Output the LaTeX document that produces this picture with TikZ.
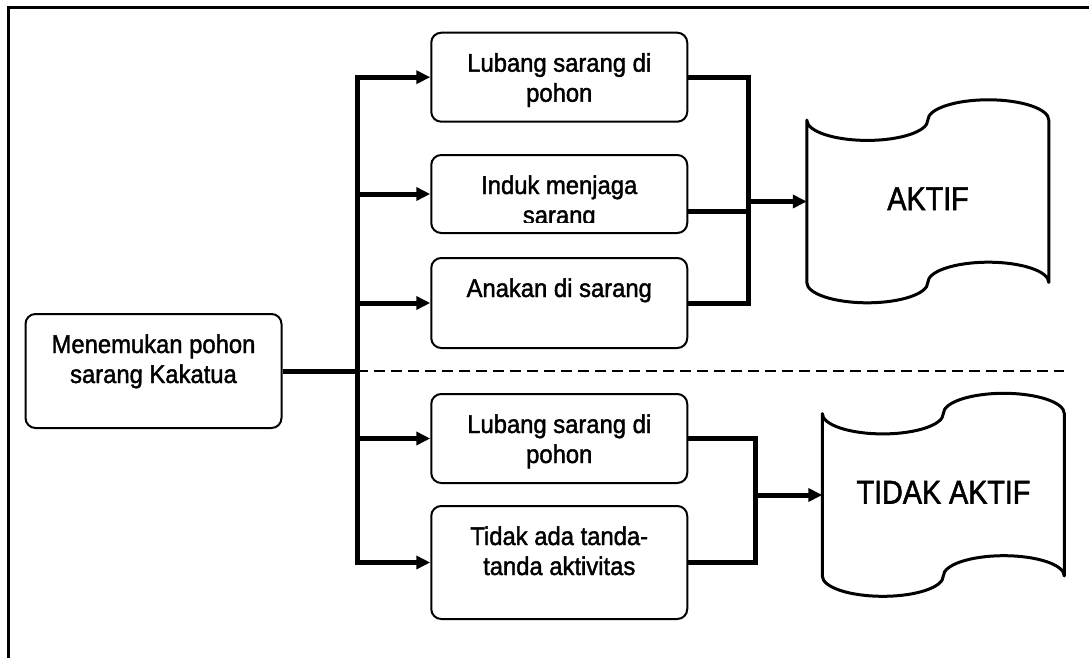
\documentclass[tikz,border=0pt]{standalone}
\usepackage{fontspec}
\setmainfont[FakeStretch=0.93, FakeBold=1.6]{Liberation Sans}
\newfontfamily\tapefont[FakeStretch=0.875, FakeBold=1.6]{Liberation Sans}
\usetikzlibrary{arrows.meta}
\newcommand{\boxtext}[2]{\parbox[c][#1][t]{256pt}{\centering\rule{0pt}{39pt}#2}}

\begin{document}
\begin{tikzpicture}[x=1pt, y=-1pt,
    stepbox/.style={draw, line width=2pt, rounded corners=10pt, inner sep=0pt, font=\fontsize{25.6pt}{30pt}\selectfont},
    tape/.style={minimum width=242pt, minimum height=203pt, inner sep=0pt, text height=17pt, text depth=0pt, font=\tapefont\fontsize{32.8pt}{38pt}\selectfont},
    tapeline/.style={line width=3pt, line join=round},
    link/.style={line width=5pt},
    feed/.style={link, -{Triangle[length=14pt,width=13pt]}},
    divider/.style={line width=2pt, dash pattern=on 11pt off 6pt},
    frame/.style={line width=2.5pt}]
  \useasboundingbox (0,0) rectangle (1089,658);

  % Frame (only its top and left edges are in the picture)
  \draw[frame] (8.7,658) -- (8.7,7.5) -- (1089,7.5);

  % Nodes
  \node[stepbox] (find) at (153.5,371) {\boxtext{114pt}{Menemukan pohon\\sarang Kakatua}};
  \node[stepbox] (hole) at (559.25,77.2) {\boxtext{89pt}{Lubang sarang di\\pohon}};
  \node[stepbox] (guard) at (559.25,194) {\boxtext{78pt}{}};
  \node[stepbox] (chick) at (559.25,303) {\boxtext{90pt}{Anakan di sarang}};
  \node[stepbox] (oldhole) at (559.25,438.5) {\boxtext{89pt}{Lubang sarang di\\pohon}};
  \node[stepbox] (nosign) at (559.25,562.5) {\boxtext{113pt}{Tidak ada tanda-\\tanda aktivitas}};
  \node[tape] (aktif) at (928,201.5) {AKTIF};
  \node[tape] (tidak) at (943.5,495) {TIDAK AKTIF};

  % guard text runs past the lower edge and is cut off
  \begin{scope}
    \clip (guard.north west) rectangle ([yshift=11.5pt]guard.south east);
    \node[stepbox, draw=none] (guardtext) at (guard) {\boxtext{78pt}{Induk menjaga\\sarang}};
  \end{scope}

  % Tape outlines
  \foreach \t in {aktif,tidak}
    \draw[tapeline, shift={(\t.north west)}] (0,20.3)
      .. controls (0,31.5) and (27.1,40.6) .. (60.5,40.6)
      .. controls (93.9,40.6) and (121,31.5) .. (121,20.3)
      .. controls (121,9.1) and (148.1,0) .. (181.5,0)
      .. controls (214.9,0) and (242,9.1) .. (242,20.3)
      -- (242,182.7)
      .. controls (242,171.5) and (214.9,162.4) .. (181.5,162.4)
      .. controls (148.1,162.4) and (121,171.5) .. (121,182.7)
      .. controls (121,193.9) and (93.9,203) .. (60.5,203)
      .. controls (27.1,203) and (0,193.9) .. (0,182.7)
      -- cycle;

  % Joints
  \coordinate (split) at (357,371);
  \coordinate (upjoin) at (748,201.5);
  \coordinate (downjoin) at (755,495);
  \coordinate (dashend) at (1064,371);
  \coordinate (guardout) at ([yshift=-17pt]guard.east);

  % Arrows
  \draw[link] (find.east) -- (split);
  \draw[feed] (split) |- (hole.west); % top branch
  \draw[feed] (split) |- (nosign.west); % bottom branch
  \draw[feed] (split |- guard.west) -- (guard.west);
  \draw[feed] (split |- chick.west) -- (chick.west);
  \draw[feed] (split |- oldhole.west) -- (oldhole.west);
  \draw[divider] (split) -- (dashend); % dashed divider

  \draw[link] (hole.east) -| (upjoin) |- (chick.east);
  \draw[link] (guardout) -- (guardout -| upjoin);
  \draw[feed] (upjoin) -- (aktif.west);

  \draw[link] (oldhole.east) -| (downjoin) |- (nosign.east);
  \draw[feed] (downjoin) -- (tidak.west);
\end{tikzpicture}
\end{document}
